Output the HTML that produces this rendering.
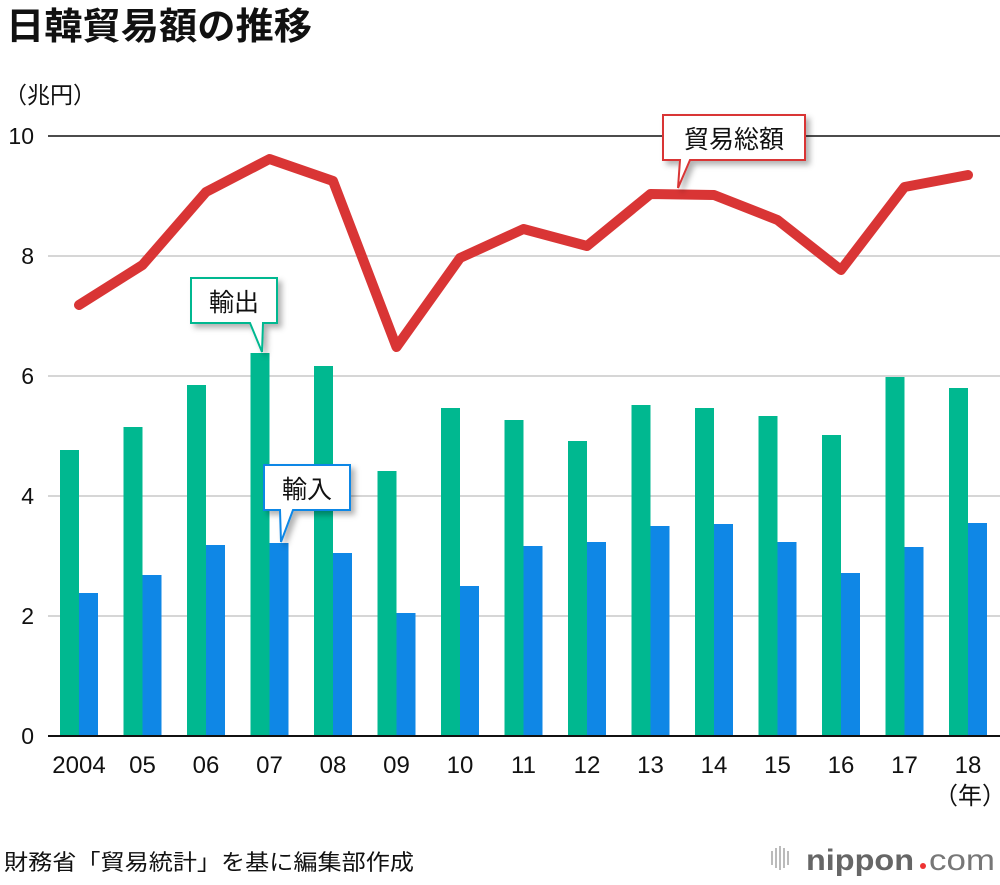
<!DOCTYPE html>
<html><head><meta charset="utf-8"><style>
body{margin:0;background:#fff;}
svg text{font-family:"Liberation Sans","Noto Sans CJK JP",sans-serif;}
</style></head><body>
<svg width="1000" height="880" xmlns="http://www.w3.org/2000/svg">
<defs><filter id="sh" x="-20%" y="-20%" width="150%" height="160%"><feDropShadow dx="4" dy="4" stdDeviation="3" flood-color="#000" flood-opacity="0.3"/></filter></defs>
<rect width="1000" height="880" fill="#fff"/>
<text x="6" y="39" font-size="37" font-weight="bold" fill="#111" textLength="306" lengthAdjust="spacingAndGlyphs">日韓貿易額の推移</text>
<text x="4" y="103" font-size="23" fill="#111">（兆円）</text>
<g stroke="#c8c8c8" stroke-width="1.5">
<line x1="48" y1="256" x2="1000" y2="256"/><line x1="48" y1="376" x2="1000" y2="376"/><line x1="48" y1="496" x2="1000" y2="496"/><line x1="48" y1="616" x2="1000" y2="616"/>
</g>
<line x1="48" y1="136" x2="1000" y2="136" stroke="#111" stroke-width="1.5"/>
<g font-size="23" fill="#111" text-anchor="end">
<text x="34" y="144">10</text><text x="34" y="264">8</text><text x="34" y="384">6</text><text x="34" y="504">4</text><text x="34" y="624">2</text><text x="34" y="744">0</text>
</g>
<g fill="#00b890">
<rect x="60" y="450" width="19" height="286"/><rect x="123.5" y="427" width="19" height="309"/><rect x="187" y="385" width="19" height="351"/><rect x="250.5" y="353" width="19" height="383"/><rect x="314" y="366" width="19" height="370"/><rect x="377.5" y="471" width="19" height="265"/><rect x="441" y="408" width="19" height="328"/><rect x="504.5" y="420" width="19" height="316"/><rect x="568" y="441" width="19" height="295"/><rect x="631.5" y="405" width="19" height="331"/><rect x="695" y="408" width="19" height="328"/><rect x="758.5" y="416" width="19" height="320"/><rect x="822" y="435" width="19" height="301"/><rect x="885.5" y="377" width="19" height="359"/><rect x="949" y="388" width="19" height="348"/>
</g>
<g fill="#0f87e6">
<rect x="79" y="593" width="19" height="143"/><rect x="142.5" y="575" width="19" height="161"/><rect x="206" y="545" width="19" height="191"/><rect x="269.5" y="543" width="19" height="193"/><rect x="333" y="553" width="19" height="183"/><rect x="396.5" y="613" width="19" height="123"/><rect x="460" y="586" width="19" height="150"/><rect x="523.5" y="546" width="19" height="190"/><rect x="587" y="542" width="19" height="194"/><rect x="650.5" y="526" width="19" height="210"/><rect x="714" y="524" width="19" height="212"/><rect x="777.5" y="542" width="19" height="194"/><rect x="841" y="573" width="19" height="163"/><rect x="904.5" y="547" width="19" height="189"/><rect x="968" y="523" width="19" height="213"/>
</g>
<line x1="48" y1="736" x2="1000" y2="736" stroke="#111" stroke-width="2"/>
<polyline fill="none" stroke="#d93535" stroke-width="10" stroke-linejoin="round" stroke-linecap="round" points="79,305 142.5,265 206,192 269.5,159 333,181 396.5,347 460,258 523.5,229 587,246 650.5,194 714,195 777.5,220 841,270 904.5,187 968,175"/>
<g font-size="24" fill="#111" text-anchor="middle">
<text x="79" y="773">2004</text><text x="142.5" y="773">05</text><text x="206" y="773">06</text><text x="269.5" y="773">07</text><text x="333" y="773">08</text><text x="396.5" y="773">09</text><text x="460" y="773">10</text><text x="523.5" y="773">11</text><text x="587" y="773">12</text><text x="650.5" y="773">13</text><text x="714" y="773">14</text><text x="777.5" y="773">15</text><text x="841" y="773">16</text><text x="904.5" y="773">17</text><text x="968" y="773">18</text>
<text x="970" y="804">（年）</text>
</g>
<path d="M191,278 H277 V323 H263 L262,352 L250,323 H191 Z" fill="#fff" stroke="#00b890" stroke-width="2" filter="url(#sh)"/>
<text x="234" y="311" font-size="25" fill="#111" text-anchor="middle">輸出</text>
<path d="M264,465 H350 V510 H293 L281,542 L280,510 H264 Z" fill="#fff" stroke="#0f87e6" stroke-width="2" filter="url(#sh)"/>
<text x="307" y="498" font-size="25" fill="#111" text-anchor="middle">輸入</text>
<path d="M663,115 H805 V160 H690 L678,188 L680,160 H663 Z" fill="#fff" stroke="#d93535" stroke-width="2" filter="url(#sh)"/>
<text x="734" y="148" font-size="25" fill="#111" text-anchor="middle">貿易総額</text>
<text x="4" y="870" font-size="22" fill="#111" textLength="410" lengthAdjust="spacingAndGlyphs">財務省「貿易統計」を基に編集部作成</text>
<g fill="#bbb">
<rect x="771" y="851" width="2" height="14"/><rect x="775" y="848" width="2" height="20"/><rect x="779" y="846" width="2" height="24"/><rect x="783" y="848" width="2" height="20"/><rect x="787" y="851" width="2" height="14"/>
</g>
<text x="806" y="870" font-size="30" fill="#666" font-weight="bold" textLength="108" lengthAdjust="spacingAndGlyphs">nippon</text><circle cx="923" cy="866" r="3" fill="#e33"/><text x="929" y="870" font-size="30" fill="#777" textLength="66" lengthAdjust="spacingAndGlyphs">com</text>
</svg>
</body></html>
